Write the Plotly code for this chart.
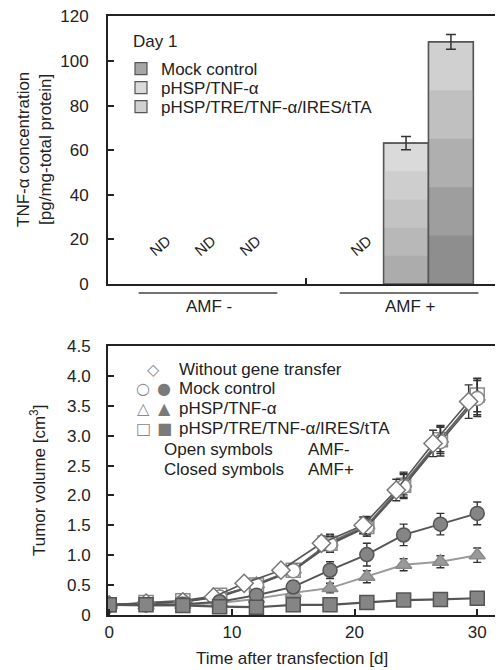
import plotly.graph_objects as go

# ---------------- data: top panel (TNF-alpha, Day 1) ----------------
groups = ["AMF -", "AMF +"]
mock_tnf = [None, None]         # ND in both groups
hsp_tnf = [None, 63.2]          # ND in AMF-
tre_tnf = [None, 108.6]         # ND in AMF-
hsp_tnf_err = [0, 3.0]
tre_tnf_err = [0, 3.3]
bar_names = ["Mock control", "pHSP/TNF-\u03b1", "pHSP/TRE/TNF-\u03b1/IRES/tTA"]

# ---------------- data: bottom panel (tumor volume) ----------------
days = [0, 3, 6, 9, 12, 15, 18, 21, 24, 27, 30]
days_wo = [0, 3, 6, 8.5, 11, 14, 17.3, 20.7, 23.4, 26.4, 29.3]
wo_gene = [0.17, 0.20, 0.22, 0.30, 0.53, 0.75, 1.20, 1.50, 2.09, 2.87, 3.57]
wo_gene_err = [0.02, 0.03, 0.03, 0.05, 0.06, 0.08, 0.12, 0.14, 0.18, 0.22, 0.28]
mock_open = [0.17, 0.19, 0.22, 0.30, 0.50, 0.74, 1.18, 1.47, 2.15, 2.90, 3.62]
mock_open_err = [0.02, 0.03, 0.04, 0.05, 0.06, 0.09, 0.13, 0.15, 0.20, 0.24, 0.30]
tnf_open = [0.17, 0.20, 0.23, 0.31, 0.52, 0.76, 1.22, 1.50, 2.20, 2.95, 3.65]
tnf_open_err = [0.02, 0.03, 0.04, 0.05, 0.06, 0.09, 0.13, 0.15, 0.19, 0.22, 0.30]
tre_open = [0.17, 0.21, 0.24, 0.33, 0.50, 0.75, 1.20, 1.48, 2.17, 2.93, 3.68]
tre_open_err = [0.02, 0.03, 0.04, 0.05, 0.06, 0.09, 0.13, 0.16, 0.20, 0.23, 0.28]
mock_closed = [0.17, 0.17, 0.18, 0.22, 0.33, 0.47, 0.75, 1.01, 1.34, 1.52, 1.70]
mock_closed_err = [0.02, 0.03, 0.03, 0.04, 0.06, 0.10, 0.14, 0.19, 0.18, 0.18, 0.19]
tnf_closed = [0.17, 0.16, 0.17, 0.20, 0.27, 0.37, 0.45, 0.64, 0.84, 0.89, 1.00]
tnf_closed_err = [0.02, 0.02, 0.03, 0.03, 0.05, 0.06, 0.08, 0.10, 0.10, 0.10, 0.12]
tre_closed = [0.17, 0.17, 0.16, 0.14, 0.13, 0.17, 0.17, 0.21, 0.25, 0.26, 0.28]
tre_closed_err = [0.02, 0.02, 0.02, 0.02, 0.02, 0.03, 0.03, 0.03, 0.04, 0.04, 0.05]

FONT = "Liberation Sans, Arial, sans-serif"
TXT = "#222222"
OFF = 8                      # page body margin of the html page
W, H = 503 - OFF, 670 - OFF
ML, MR, MT, MB = 100, 0, 8, 55
PW, PH = W - ML - MR, H - MT - MB


def px(xp):
    """reference-image x pixel -> paper fraction"""
    return (xp - OFF - ML) / PW


def py(yp):
    """reference-image y pixel -> paper fraction"""
    return (H - MB - (yp - OFF)) / PH


def hexgray(v):
    v = int(round(v))
    return "#%02x%02x%02x" % (v, v, v)


fig = go.Figure()

# ---- top panel bars: banded fill (lighter at top, darker at bottom) ----
NB = 5
fig.add_trace(go.Bar(
    x=groups, y=mock_tnf, name=bar_names[0], offsetgroup="mock",
    marker=dict(color="#a6a6a6", line=dict(color="#555555", width=1.2)),
    xaxis="x", yaxis="y", legend="legend", hoverinfo="skip"))

for vals, errs, name, grp, leg, (ctop, cbot) in [
        (hsp_tnf, hsp_tnf_err, bar_names[1], "hsp", "legend2", (218, 172)),
        (tre_tnf, tre_tnf_err, bar_names[2], "tre", "legend3", (208, 142))]:
    for k in range(NB, 0, -1):
        frac = k / NB
        shade = cbot + (ctop - cbot) * (k - 1) / (NB - 1)
        fig.add_trace(go.Bar(
            x=groups, y=[None if v is None else v * frac for v in vals],
            name=name, offsetgroup=grp, showlegend=(k == NB), legend=leg,
            marker=dict(color=hexgray(shade),
                        line=dict(color="#555555", width=1.2 if k == NB else 0)),
            xaxis="x", yaxis="y", hoverinfo="skip"))
    fig.add_trace(go.Bar(
        x=groups, y=vals, name=name, offsetgroup=grp, showlegend=False,
        marker=dict(color="rgba(0,0,0,0)", line=dict(color="#555555", width=1.5)),
        error_y=dict(type="data", array=errs, color="#333333", thickness=1.5, width=5),
        xaxis="x", yaxis="y"))


# ---- bottom panel lines ----
def line_trace(xs, ys, errs, symbol, fill, mline, lcolor, lw=1.6):
    return go.Scatter(
        x=xs, y=ys, mode="lines+markers", showlegend=False,
        line=dict(color=lcolor, width=lw),
        marker=dict(symbol=symbol, size=14, color=fill,
                    line=dict(color=mline, width=1.5)),
        error_y=dict(type="data", array=errs, color="#333333", thickness=1.4, width=4),
        xaxis="x2", yaxis="y2")


fig.add_trace(line_trace(days, tre_open, tre_open_err, "square", "white", "#8a8a8a", "#555555"))
fig.add_trace(line_trace(days, tnf_open, tnf_open_err, "triangle-up", "white", "#8a8a8a", "#666666"))
fig.add_trace(line_trace(days, mock_open, mock_open_err, "circle", "white", "#8a8a8a", "#555555"))
fig.add_trace(line_trace(days_wo, wo_gene, wo_gene_err, "diamond", "white", "#777777", "#555555"))
fig.add_trace(line_trace(days, tnf_closed, tnf_closed_err, "triangle-up", "#9a9a9a", "#8a8a8a", "#9a9a9a", 2))
fig.add_trace(line_trace(days, mock_closed, mock_closed_err, "circle", "#858585", "#555555", "#555555", 2))
fig.add_trace(line_trace(days, tre_closed, tre_closed_err, "square", "#858585", "#555555", "#555555", 2.2))

# ---------------- layout ----------------
top_dom = [py(284), 1.0]
bot_dom = [0.0, py(346)]

axis_common = dict(showline=True, linecolor="#222222", linewidth=2, ticks="inside",
                   tickcolor="#222222", tickwidth=1.5, ticklen=6, showgrid=False,
                   zeroline=False, tickfont=dict(family=FONT, size=17, color=TXT))


def one_legend(yp):
    return dict(x=px(121), y=py(yp), xanchor="left", yanchor="middle",
                bgcolor="rgba(0,0,0,0)", font=dict(family=FONT, size=17, color=TXT),
                itemwidth=30)


fig.update_layout(
    width=W, height=H, margin=dict(l=ML, r=MR, t=MT, b=MB, autoexpand=False),
    paper_bgcolor="white", plot_bgcolor="white",
    barmode="group", bargap=0.33, bargroupgap=0,
    font=dict(family=FONT, size=17, color=TXT),
    xaxis=dict(axis_common, domain=[0, 1], anchor="y", type="category",
               range=[-0.4826, 1.4824], tickson="boundaries", showticklabels=False,
               mirror=True),
    yaxis=dict(axis_common, domain=top_dom, anchor="x", range=[0, 120.2],
               tickvals=[0, 20, 40, 60, 80, 100, 120], ticklabelstandoff=14,
               ticklabeloverflow="allow"),
    xaxis2=dict(axis_common, domain=[0, 1], anchor="y2", range=[-0.1, 32.1],
                tickvals=[0, 10, 20, 30], mirror=True, ticklabelstandoff=1),
    yaxis2=dict(axis_common, domain=bot_dom, anchor="x2", range=[0, 4.5],
                tickvals=[0, 0.5, 1, 1.5, 2, 2.5, 3, 3.5, 4, 4.5],
                ticktext=["0", "0.5", "1.0", "1.5", "2.0", "2.5", "3.0", "3.5", "4.0", "4.5"],
                ticklabelstandoff=12),
    legend=one_legend(69),
    legend2=one_legend(88),
    legend3=one_legend(107),
)

CEN = dict(xanchor="center", yanchor="middle", showarrow=False)
ann = []
ann.append(dict(x=px(131), y=py(41), xref="paper", yref="paper", text="Day 1",
                xanchor="left", yanchor="middle", showarrow=False,
                font=dict(family=FONT, size=17, color=TXT)))
# ND labels
for xpos in [-0.224, 0.0, 0.224, 1 - 0.224]:
    ann.append(dict(CEN, x=xpos, y=17.4, xref="x", yref="y", text="ND",
                    textangle=-40, font=dict(family=FONT, size=15, color=TXT)))
# group labels and lines under top x-axis
shapes = []
for i, g in enumerate(groups):
    shapes.append(dict(type="line", xref="x", yref="paper", x0=i - 0.33, x1=i + 0.36,
                       y0=py(293), y1=py(293), line=dict(color="#444444", width=1.5)))
    ann.append(dict(CEN, x=i + 0.02, y=py(307), xref="x", yref="paper", text=g,
                    font=dict(family=FONT, size=17, color=TXT)))
# axis titles
ann.append(dict(CEN, x=px(34), y=py(150), xref="paper", yref="paper",
                text="TNF-\u03b1 concentration<br>[pg/mg-total protein]",
                textangle=-90, font=dict(family=FONT, size=17, color=TXT)))
ann.append(dict(CEN, x=px(38), y=py(481), xref="paper", yref="paper",
                text="Tumor volume [cm<sup>3</sup>]",
                textangle=-90, font=dict(family=FONT, size=17, color=TXT)))
ann.append(dict(CEN, x=px(292), y=py(658), xref="paper", yref="paper",
                text="Time after transfection [d]",
                font=dict(family=FONT, size=17, color=TXT)))

# bottom legend (text-based, open / closed symbols)
SYM = dict(family="DejaVu Sans", size=16, color="#8a8a8a")
rows = [
    (369, None, "\u25c7", "Without gene transfer"),
    (388, "\u25cb", "\u25cf", "Mock control"),
    (408, "\u25b3", "\u25b2", "pHSP/TNF-\u03b1"),
    (428, "\u25a1", "\u25a0", "pHSP/TRE/TNF-\u03b1/IRES/tTA"),
]
for yp, o, c, label in rows:
    if o is None:
        ann.append(dict(CEN, x=px(153), y=py(yp), xref="paper", yref="paper", text=c,
                        font=SYM))
    else:
        ann.append(dict(CEN, x=px(143), y=py(yp), xref="paper", yref="paper", text=o,
                        font=SYM))
        ann.append(dict(CEN, x=px(164), y=py(yp), xref="paper", yref="paper", text=c,
                        font=dict(SYM, color="#7a7a7a")))
    ann.append(dict(x=px(177), y=py(yp), xref="paper", yref="paper", text=label,
                    showarrow=False, xanchor="left", yanchor="middle",
                    font=dict(family=FONT, size=17, color=TXT)))
for yp, a, b in [(449, "Open symbols", "AMF-"), (469, "Closed symbols", "AMF+")]:
    ann.append(dict(x=px(162), y=py(yp), xref="paper", yref="paper", text=a,
                    showarrow=False, xanchor="left", yanchor="middle",
                    font=dict(family=FONT, size=17, color=TXT)))
    ann.append(dict(x=px(306), y=py(yp), xref="paper", yref="paper", text=b,
                    showarrow=False, xanchor="left", yanchor="middle",
                    font=dict(family=FONT, size=17, color=TXT)))

fig.update_layout(annotations=ann, shapes=shapes)
fig.write_html("out.html")
